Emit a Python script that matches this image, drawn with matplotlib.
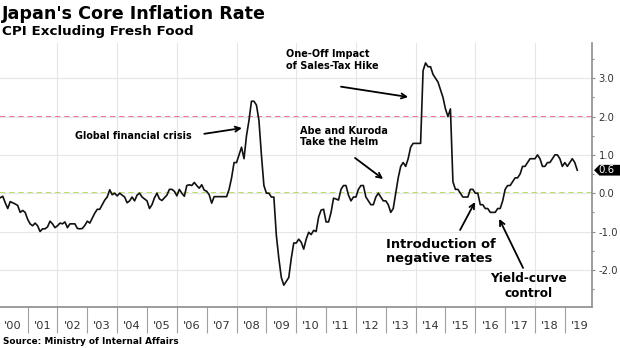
import numpy as np
import matplotlib
matplotlib.use("Agg")
import matplotlib.pyplot as plt
from matplotlib.ticker import FixedLocator, NullFormatter, FixedFormatter
from matplotlib.patches import Polygon
import matplotlib.transforms as mtransforms

plt.rcParams['axes.unicode_minus'] = False
plt.rcParams['font.family'] = ['DejaVu Sans']

# ---- data: Japan core CPI (ex fresh food), YoY %, monthly ----
v2000 = [-0.1, -0.12, -0.08, -0.25, -0.4, -0.22, -0.25, -0.28, -0.32, -0.5, -0.45, -0.5]
v2001 = [-0.68, -0.8, -0.85, -0.78, -0.85, -1.0, -0.93, -0.93, -0.88, -0.73, -0.8, -0.9]
v2002 = [-0.85, -0.78, -0.8, -0.75, -0.9, -0.8, -0.8, -0.8, -0.92, -0.93, -0.92, -0.84]
v2003 = [-0.73, -0.78, -0.65, -0.52, -0.42, -0.42, -0.3, -0.18, -0.1, 0.09, -0.04, 0.0]
v2004 = [-0.07, 0.0, -0.05, -0.1, -0.25, -0.2, -0.1, -0.2, -0.05, 0.0, -0.1, -0.15]
v2005 = [-0.2, -0.4, -0.3, -0.12, 0.0, -0.15, -0.19, -0.12, -0.05, 0.1, 0.1, 0.05]
v2006 = [-0.07, 0.1, 0.0, -0.08, 0.2, 0.22, 0.2, 0.28, 0.2, 0.13, 0.22, 0.08]
v2007 = [0.05, -0.04, -0.26, -0.09, -0.09, -0.09, -0.09, -0.09, -0.09, 0.1, 0.4, 0.8]
v2008 = [0.8, 1.0, 1.2, 0.9, 1.5, 1.9, 2.4, 2.4, 2.3, 1.9, 1.0, 0.2]
v2009 = [0.0, 0.0, -0.1, -0.1, -1.1, -1.7, -2.2, -2.4, -2.3, -2.2, -1.7, -1.3]
v2010 = [-1.3, -1.2, -1.28, -1.46, -1.2, -1.02, -1.08, -0.97, -1.0, -0.62, -0.44, -0.42]
v2011 = [-0.75, -0.75, -0.5, -0.13, -0.15, -0.18, 0.1, 0.2, 0.2, -0.05, -0.2, -0.1]
v2012 = [-0.1, 0.1, 0.2, 0.2, -0.1, -0.2, -0.3, -0.3, -0.1, 0.0, -0.1, -0.2]
v2013 = [-0.2, -0.3, -0.5, -0.4, 0.0, 0.4, 0.7, 0.8, 0.7, 0.9, 1.2, 1.3]
v2014 = [1.3, 1.3, 1.3, 3.2, 3.4, 3.3, 3.3, 3.1, 3.0, 2.9, 2.7, 2.5]
v2015 = [2.2, 2.0, 2.2, 0.3, 0.1, 0.1, 0.0, -0.1, -0.1, -0.1, 0.1, 0.1]
v2016 = [0.0, 0.0, -0.3, -0.3, -0.4, -0.4, -0.5, -0.5, -0.5, -0.4, -0.4, -0.2]
v2017 = [0.1, 0.2, 0.2, 0.3, 0.4, 0.4, 0.5, 0.7, 0.7, 0.8, 0.9, 0.9]
v2018 = [0.9, 1.0, 0.9, 0.7, 0.7, 0.8, 0.8, 0.9, 1.0, 1.0, 0.9, 0.7]
v2019 = [0.8, 0.7, 0.8, 0.9, 0.8, 0.6]

values = (v2000 + v2001 + v2002 + v2003 + v2004 + v2005 + v2006 + v2007 + v2008 + v2009
          + v2010 + v2011 + v2012 + v2013 + v2014 + v2015 + v2016 + v2017 + v2018 + v2019)
start_year = 2000
dates = start_year + np.arange(len(values)) / 12.0

year_labels = ["'00", "'01", "'02", "'03", "'04", "'05", "'06", "'07", "'08", "'09",
               "'10", "'11", "'12", "'13", "'14", "'15", "'16", "'17", "'18", "'19"]
y_ticks = [-2.0, -1.0, 0.0, 1.0, 2.0, 3.0]
target_line = 2.0
zero_line = 0.0

# ---- figure ----
fig = plt.figure(figsize=(6.2, 3.48), dpi=100)
ax = fig.add_axes([0.0, 41 / 348, 592.3 / 620, 264 / 348])

ax.set_xlim(2000.074, 2019.92)
ax.set_ylim(-2.97, 3.92)

# grid
ax.yaxis.grid(True, which='major', color='#e6e6e6', lw=0.8, zorder=0)
for yr in range(2002, 2020, 2):
    ax.axvline(yr, color='#e6e6e6', lw=0.8, zorder=0)

# reference dashed lines
ax.axhline(target_line, color='#ec456c', lw=1.1, dashes=(3.5, 2.5), zorder=1)
ax.axhline(zero_line, color='#a4d23c', lw=1.1, dashes=(3.5, 2.5), zorder=1)

# series
ax.plot(dates, values, color='#111111', lw=1.2, zorder=3, solid_joinstyle='round')

# spines
for s in ['left', 'top']:
    ax.spines[s].set_visible(False)
for s in ['right', 'bottom']:
    ax.spines[s].set_color('#8c8c8c')
    ax.spines[s].set_linewidth(1.2)

# x axis: separator ticks at year starts, labels at mid-year
ax.xaxis.set_major_locator(FixedLocator(list(range(2001, 2020))))
ax.xaxis.set_major_formatter(NullFormatter())
ax.xaxis.set_minor_locator(FixedLocator([start_year + i + 0.5 for i in range(len(year_labels))]))
ax.xaxis.set_minor_formatter(FixedFormatter(year_labels))
ax.tick_params(axis='x', which='major', length=19, width=0.8, color='#a0a0a0', direction='out')
ax.tick_params(axis='x', which='minor', length=0, pad=10, labelsize=8.2, labelcolor='#333333')

# y axis on right
ax.yaxis.tick_right()
ax.yaxis.set_major_locator(FixedLocator(y_ticks))
ax.yaxis.set_major_formatter(FixedFormatter([f"{t:.1f}" for t in y_ticks]))
ax.yaxis.set_minor_locator(FixedLocator([t + 0.5 for t in [-3.0] + y_ticks]))
ax.tick_params(axis='y', which='major', length=2.5, width=0.8, color='#8c8c8c', pad=2,
               labelsize=7.2, labelcolor='#333333')
ax.tick_params(axis='y', which='minor', length=1.5, width=0.8, color='#8c8c8c')

# last value label
last = values[-1]
trans = mtransforms.blended_transform_factory(ax.transAxes, ax.transData)
h = 0.14
poly = Polygon([(1.003, last), (1.012, last + h), (1.047, last + h), (1.047, last - h), (1.012, last - h)],
               closed=True, transform=trans, facecolor='black', edgecolor='none', clip_on=False, zorder=5)
ax.add_patch(poly)
ax.text(1.0235, last, f"{last:.1f}", transform=trans, color='white', fontsize=7.4,
        ha='center', va='center', zorder=6, clip_on=False)

# annotations
ap = dict(arrowstyle='->', lw=1.3, color='black', shrinkA=0, shrinkB=0, mutation_scale=9)
ax.text(2002.59, 1.50, "Global financial crisis", fontsize=6.9, weight='bold', ha='left', va='center')
ax.annotate("", xy=(2008.18, 1.70), xytext=(2006.92, 1.55), arrowprops=ap)

ax.text(2009.66, 3.48, "One-Off Impact\nof Sales-Tax Hike", fontsize=7.0, weight='bold',
        ha='left', va='center', linespacing=1.2)
ax.annotate("", xy=(2013.75, 2.51), xytext=(2011.50, 2.78), arrowprops=ap)

ax.text(2010.13, 1.48, "Abe and Kuroda\nTake the Helm", fontsize=7.0, weight='bold',
        ha='left', va='center', linespacing=1.1)
ax.annotate("", xy=(2012.91, 0.37), xytext=(2011.97, 0.92), arrowprops=ap)

ax.text(2013.01, -1.52, "Introduction of\nnegative rates", fontsize=9.4, weight='bold',
        ha='left', va='center', linespacing=1.1)
ax.annotate("", xy=(2015.99, -0.23), xytext=(2015.49, -0.96), arrowprops=ap)

ax.text(2017.77, -2.43, "Yield-curve\ncontrol", fontsize=8.7, weight='bold',
        ha='center', va='center', linespacing=1.2)
ax.annotate("", xy=(2016.80, -0.67), xytext=(2017.60, -1.95), arrowprops=ap)

# titles and source
fig.text(2 / 620, 1 - 19 / 348, "Japan's Core Inflation Rate", fontsize=12.6, weight='bold',
         ha='left', va='baseline', color='black')
fig.text(2 / 620, 1 - 35 / 348, "CPI Excluding Fresh Food", fontsize=9.7, weight='bold',
         ha='left', va='baseline', color='black')
fig.text(3 / 620, 1 - 344 / 348, "Source: Ministry of Internal Affairs", fontsize=6.4, weight='bold',
         ha='left', va='baseline', color='black')

fig.savefig("out.png", dpi=100)
